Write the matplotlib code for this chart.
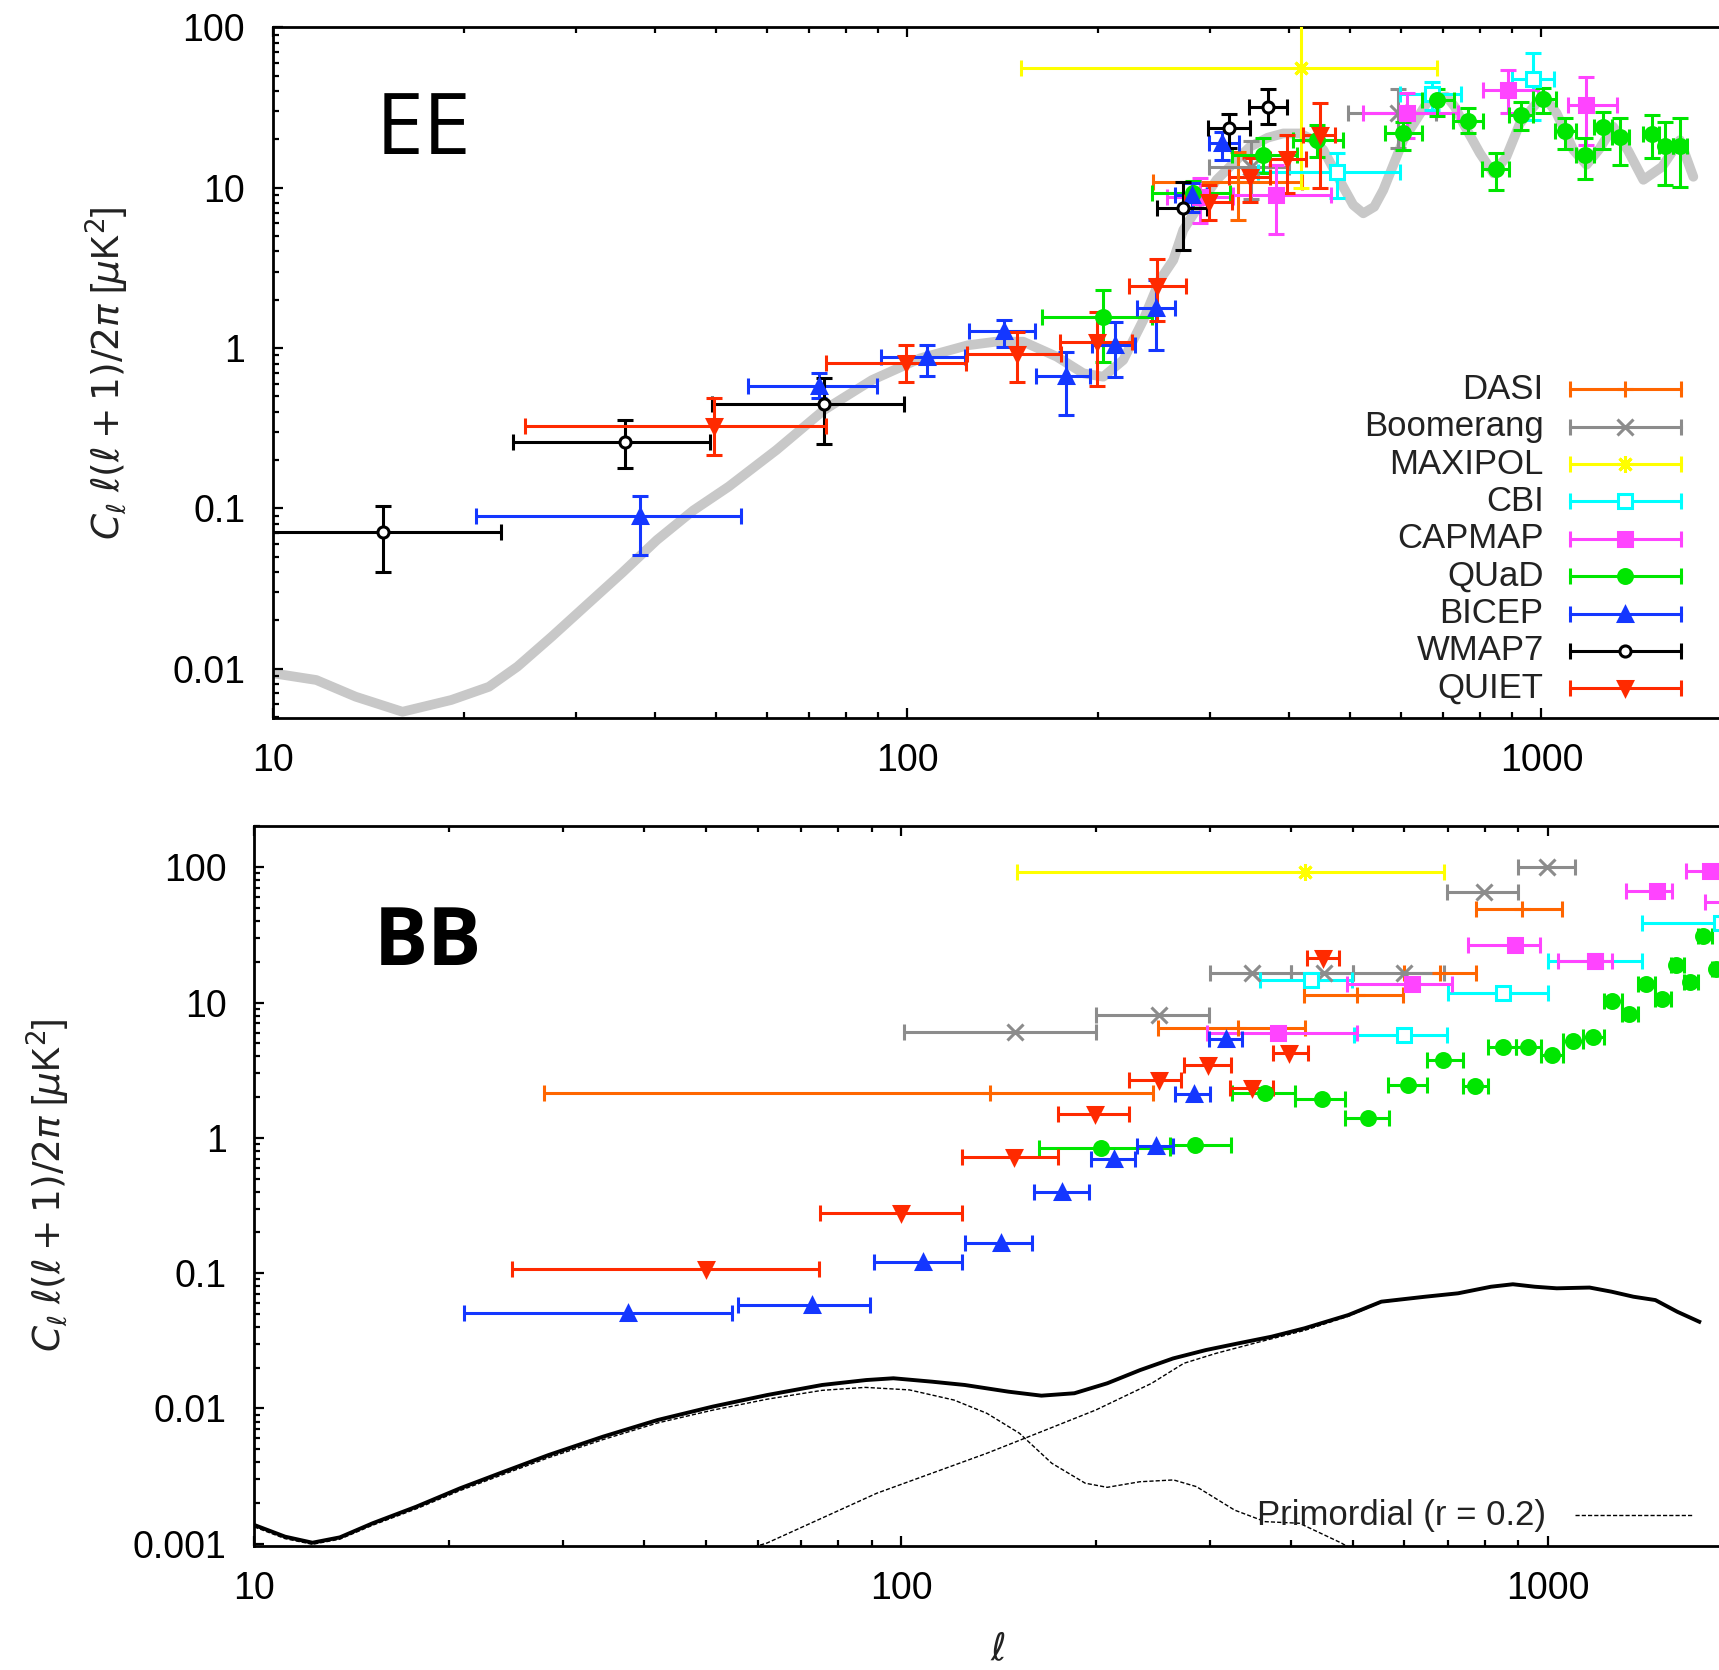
import numpy as np
import matplotlib
matplotlib.use("Agg")
import matplotlib.pyplot as plt
import matplotlib.ticker as ticker
import matplotlib.transforms as mtransforms
from matplotlib.lines import Line2D

# experiments, in the order of the key
NAMES = ["DASI", "Boomerang", "MAXIPOL", "CBI", "CAPMAP", "QUaD", "BICEP", "WMAP7", "QUIET"]
COLORS = ["#ff6600", "#8c8c8c", "#ffff00", "#00ffff", "#ff44ff", "#00e600", "#1437ff", "#000000", "#ff2a00"]
MARKERS = ["+", "x", (8, 2, 0), "s", "s", "o", "^", "o", "v"]
FILLED = [True, True, True, False, True, True, True, False, True]

# ---- EE band powers: l, l_min, l_max, C, C_min, C_max  [uK^2]
EE_DASI = [(332.7, 243.8, 420, 10.9, 6.29, 16.8)]
EE_BOOMERANG = [(348, 299, 400, 13.5, 8.5, 19.5),
                (594, 495.5, 682, 29.4, 17.6, 41.1)]
EE_MAXIPOL = [(418.2, 150.9, 685, 55.8, 9.9, 150)]
EE_CBI = [(476.7, 357.8, 598.6, 12.6, 8.59, 16.4),
          (671.5, 598.4, 746.2, 38.4, 30.5, 45.9),
          (969, 898, 1047, 47.5, 26.4, 68.9)]
EE_CAPMAP = [(289, 256.6, 326.1, 8.7, 6.0, 11.5),
             (381.5, 326.1, 465.5, 9.0, 5.14, 13.9),
             (614.6, 523.9, 739.6, 29.1, 20.3, 38.8),
             (887, 808, 988.8, 40.7, 29.4, 54.2),
             (1176, 1103, 1317.5, 32.8, 18.5, 49.3)]
EE_QUAD = [(203.4, 163, 243, 1.555, 0.821, 2.3),
           (282.5, 243, 322.8, 9.23, 7.5, 11.0),
           (364.4, 324.9, 411.4, 16.0, 12.3, 20.3),
           (442.3, 406.3, 486, 19.8, 15.5, 24.5),
           (605.7, 566.8, 647.5, 21.8, 17.2, 25.8),
           (685.3, 647.6, 728.2, 35.3, 28.0, 41.1),
           (767.3, 726.2, 808, 26.1, 21.8, 31.3),
           (848, 805, 890, 13.0, 9.68, 16.4),
           (928, 890, 970.9, 28.4, 22.9, 34.4),
           (1007, 970, 1054, 35.6, 29.4, 41.7),
           (1089.5, 1051, 1134, 22.7, 17.4, 27.1),
           (1172, 1134, 1210.6, 16.0, 11.4, 20.3),
           (1249.6, 1210, 1290.7, 23.8, 17.4, 29.8),
           (1330, 1290, 1376, 20.6, 13.9, 27.1),
           (1492.6, 1447.8, 1534.6, 21.6, 15.3, 28.4),
           (1566.5, 1534, 1610.5, 18.2, 10.4, 25.8),
           (1654.4, 1610, 1698.2, 18.2, 10.15, 27.1)]
EE_BICEP = [(37.9, 20.9, 54.7, 0.0892, 0.0514, 0.120),
            (72.7, 56.0, 89.6, 0.579, 0.486, 0.695),
            (107.5, 90.8, 123.5, 0.883, 0.669, 1.044),
            (142.1, 125.3, 159, 1.28, 1.01, 1.495),
            (178, 159.7, 194.2, 0.669, 0.382, 0.948),
            (212.7, 195.4, 228.7, 1.044, 0.657, 1.459),
            (246.8, 230.1, 264.4, 1.769, 0.972, 2.657),
            (281, 264.4, 296.7, 9.0, 7.08, 10.7),
            (313.3, 299.4, 333.9, 18.9, 14.9, 22.4)]
EE_WMAP7 = [(14.9, 8, 22.9, 0.0716, 0.040, 0.103),
            (35.9, 23.9, 48.9, 0.260, 0.178, 0.356),
            (73.8, 49.3, 99, 0.445, 0.252, 0.649),
            (272.5, 248, 296.7, 7.44, 4.09, 10.9),
            (322, 298.4, 347, 23.5, 17.6, 28.8),
            (371, 346, 396.7, 32.1, 25.0, 41.4)]
EE_QUIET = [(49.6, 24.97, 74.6, 0.326, 0.215, 0.486),
            (99.7, 74.6, 124, 0.81, 0.616, 1.044),
            (149.1, 124.1, 174.6, 0.917, 0.616, 1.264),
            (199, 174.2, 225.9, 1.095, 0.579, 1.685),
            (248, 223.9, 275.2, 2.436, 1.47, 3.6),
            (299.4, 274.2, 324.9, 8.18, 6.29, 10.4),
            (347, 322, 373.4, 11.6, 8.18, 15.3),
            (397.6, 373.4, 425.5, 15.0, 9.23, 21.3),
            (447.7, 421.3, 472.8, 21.3, 9.9, 33.6)]

# LCDM EE model
EE_MODEL_L = [10, 11.7, 13.5, 16.0, 19.1, 21.9, 24.3, 27.5, 31.0, 35.5, 40.3, 46, 52.3, 62.2, 73.9,
              88, 104.8, 124.6, 138, 152.4, 172.1, 189.6, 203.8, 219.1, 235.7, 250.3, 262.8, 272.5,
              290, 307.6, 347.1, 370, 391.7, 416.3, 435, 453.1, 487.1, 505, 523.8, 545, 563.3,
              605.6, 659.3, 685, 709, 730, 753, 800, 840, 880, 925, 1007, 1057, 1123, 1178, 1235,
              1298, 1370, 1448, 1550, 1654, 1736]
EE_MODEL_C = [0.00935, 0.00849, 0.00668, 0.00538, 0.00637, 0.0077, 0.0103, 0.0158, 0.0243, 0.0395,
              0.0634, 0.097, 0.1365, 0.231, 0.41, 0.631, 0.862, 1.04, 1.095, 1.095, 0.883, 0.695,
              0.662, 0.841, 1.495, 2.66, 3.54, 5.45, 8.0, 11.2, 18.0, 20.5, 21.8, 21.8, 20.0, 17.2,
              10.1, 7.8, 6.92, 7.6, 9.68, 19.8, 33.6, 36.5, 37.0, 32.0, 25.2, 16.4, 12.3, 15.5,
              25.2, 37.9, 29.1, 17.2, 13.9, 17.5, 24.0, 17.0, 11.2, 13.5, 19.8, 11.7]

# ---- BB upper limits: l, l_min, l_max, C  [uK^2]
BB_DASI = [(137.2, 28.0, 245.3, 2.14), (332, 250, 421, 6.44), (507.3, 419.6, 596.3, 11.4),
           (681.7, 600, 775, 16.4), (912.7, 773.2, 1052, 48.8)]
BB_BOOMERANG = [(149.8, 100.9, 199.8, 6.08), (250.2, 199.8, 299.4, 8.08), (348.5, 300.6, 400.2, 16.4),
                (450.5, 400.2, 500, 16.4), (600, 500, 690, 16.4), (796, 697.3, 900, 65.9),
                (995.5, 900, 1101, 100.7)]
BB_MAXIPOL = [(420.5, 151.2, 690, 92.8)]
BB_CBI = [(429.8, 358.6, 497.3, 14.7), (600, 502, 699.4, 5.74), (851, 701.3, 1001, 11.7),
          (1182, 1001, 1396, 20.4), (1850, 1396, 2450, 38.9)]
BB_CAPMAP = [(382.9, 297.6, 506, 5.91), (615.5, 488.4, 710, 13.7), (889.2, 753, 971.8, 26.6),
             (1182, 1037, 1254.5, 20.4), (1473, 1320.6, 1553, 66.7), (1780, 1634, 1940, 94.2),
             (1900, 1747, 2070, 55.5)]
BB_QUAD = [(203.8, 163.1, 260.9, 0.834), (284.9, 260.9, 324, 0.884), (365.1, 324.9, 406.4, 2.13),
           (446.9, 406.4, 485.7, 1.95), (527.6, 485.7, 568.6, 1.39), (608.4, 566.5, 650.7, 2.45),
           (687.6, 650.7, 740.4, 3.75), (771, 740.4, 808.6, 2.43), (851, 808.6, 892.7, 4.66),
           (932.6, 892.7, 974.5, 4.71), (1013.5, 974.5, 1053.6, 4.09), (1092, 1053.6, 1134, 5.21),
           (1175.5, 1134, 1221, 5.53), (1254.5, 1221, 1300, 10.3), (1336, 1300, 1379, 8.18),
           (1418, 1379, 1464, 13.7), (1498.5, 1464, 1548, 10.7), (1577.6, 1548, 1623, 18.9),
           (1658.5, 1623, 1708, 14.2), (1739, 1708, 1791, 31.0), (1819, 1791, 1850, 17.6)]
BB_BICEP = [(37.8, 21.1, 54.8, 0.0504), (72.9, 55.9, 89.6, 0.0584), (108.1, 90.7, 124.4, 0.121),
            (142.6, 125.4, 159.1, 0.166), (177.5, 160.4, 194.9, 0.399), (213.2, 196.5, 229.6, 0.699),
            (247.4, 231.4, 263.3, 0.874), (283.5, 265.3, 300.6, 2.1), (317.6, 299.4, 336.6, 5.34)]
BB_QUIET = [(49.9, 25.0, 74.6, 0.108), (100, 74.9, 124.4, 0.280), (149.5, 124.4, 174.7, 0.725),
            (199.5, 174.7, 225.1, 1.50), (250.2, 225, 270.5, 2.68), (298.2, 273.7, 323.8, 3.48),
            (348.3, 322.3, 375.4, 2.32), (398, 375.4, 426.1, 4.21), (448.5, 423.6, 476, 21.2)]

# BB models: total, primordial (r = 0.2) and lensing
BB_TOTAL_L = [10, 11.16, 12.3, 13.56, 15.24, 17.8, 20.8, 24.3, 28.5, 34.6, 42.0, 51.1, 62.1, 75.5,
              88.3, 97.3, 111.6, 125.4, 146.6, 164.8, 185.3, 208.3, 234.2, 263.3, 296, 332.7, 374,
              420.5, 491.5, 552.7, 645.9, 726.2, 816.6, 882.8, 954.4, 1032, 1160, 1254, 1356, 1466,
              1585, 1714]
BB_TOTAL_C = [0.001375, 0.001127, 0.001017, 0.001114, 0.001416, 0.001877, 0.002566, 0.0034, 0.00452,
              0.00618, 0.0082, 0.0103, 0.01256, 0.0149, 0.0162, 0.0167, 0.01576, 0.0149, 0.01329,
              0.01242, 0.01294, 0.01533, 0.0192, 0.0234, 0.027, 0.0303, 0.0339, 0.0391, 0.049,
              0.0615, 0.0669, 0.0709, 0.0793, 0.0827, 0.0793, 0.0772, 0.0782, 0.0729, 0.0669,
              0.0632, 0.0518, 0.0437]
BB_PRIM_L = [10, 11.16, 12.3, 13.56, 15.24, 17.8, 20.8, 24.3, 28.5, 34.6, 42, 51.1, 62.1, 75.5, 88,
             103, 120.7, 135.7, 152.4, 171, 192.6, 208.3, 234, 263.8, 286.2, 327.9, 365.6, 413,
             479.7, 520]
BB_PRIM_C = [0.00133, 0.00109, 0.00099, 0.00108, 0.00137, 0.00181, 0.00247, 0.00326, 0.00432,
             0.00588, 0.0078, 0.0097, 0.0117, 0.0136, 0.0143, 0.0137, 0.01153, 0.0092, 0.00655,
             0.00393, 0.0028, 0.00261, 0.00287, 0.00296, 0.00264, 0.00177, 0.001455, 0.001416,
             0.00101, 0.0008]
BB_LENS_L = [58, 62, 91.7, 135.7, 164.8, 200, 244, 273.6, 307, 359, 420.5, 491.5, 552.7, 645.9,
             726.2, 816.6, 882.8, 954.4, 1032, 1160, 1254, 1356, 1466, 1585, 1714]
BB_LENS_C = [0.00092, 0.00101, 0.00236, 0.00466, 0.00673, 0.00973, 0.01533, 0.02154, 0.02554,
             0.0311, 0.0377, 0.048, 0.0608, 0.0665, 0.0706, 0.0791, 0.0825, 0.0792, 0.0771,
             0.0781, 0.0728, 0.0668, 0.0631, 0.0518, 0.0437]

EE_SETS = [EE_DASI, EE_BOOMERANG, EE_MAXIPOL, EE_CBI, EE_CAPMAP, EE_QUAD, EE_BICEP, EE_WMAP7, EE_QUIET]
BB_SETS = [BB_DASI, BB_BOOMERANG, BB_MAXIPOL, BB_CBI, BB_CAPMAP, BB_QUAD, BB_BICEP, None, BB_QUIET]

plt.rcParams["font.family"] = ["Liberation Sans", "DejaVu Sans"]
plt.rcParams["mathtext.fontset"] = "dejavusans"

W, H = 1719, 1670
fig = plt.figure(figsize=(W / 100, H / 100), dpi=100)
# pixel coordinates, origin top-left
px = mtransforms.Affine2D().scale(1 / W, -1 / H).translate(0, 1) + fig.transFigure

RIGHT = 2000  # axes run past the right edge of the picture


def add_panel(left, top, bottom, xdec, y100, ydec):
    ax = fig.add_axes([left / W, 1 - bottom / H, (RIGHT - left) / W, (bottom - top) / H])
    ax.set_xscale("log")
    ax.set_yscale("log")
    ax.set_xlim(10, 10 ** (1 + (RIGHT - left) / xdec))
    ax.set_ylim(10 ** (2 - (bottom - y100) / ydec), 10 ** (2 + (y100 - top) / ydec))
    fmt = ticker.FuncFormatter(lambda v, _: f"{v:g}")
    ax.xaxis.set_major_formatter(fmt)
    ax.yaxis.set_major_formatter(fmt)
    ax.xaxis.set_minor_formatter(ticker.NullFormatter())
    ax.yaxis.set_minor_formatter(ticker.NullFormatter())
    ax.yaxis.set_major_locator(ticker.LogLocator(base=10, numticks=20))
    ax.yaxis.set_minor_locator(ticker.LogLocator(base=10, subs=np.arange(2, 10), numticks=20))
    ax.tick_params(which="both", direction="in", top=True, right=True, width=1.6)
    ax.tick_params(which="major", length=7)
    ax.tick_params(which="minor", length=4)
    ax.tick_params(axis="x", labelsize=27, pad=18)
    ax.tick_params(axis="y", labelsize=27, pad=20)
    for s in ax.spines.values():
        s.set_linewidth(2.0)
    return ax


ax1 = add_panel(273, 27.4, 718, 634.2, 27.4, 160.3)
ax2 = add_panel(254.3, 825.5, 1545.8, 646.8, 867.2, 135.3)

ylab = r"$C_\ell\;\ell(\ell+1)/2\pi$ [$\mu$K$^2$]"
for ax, xp, left in [(ax1, 107, 273), (ax2, 48, 254.3)]:
    ax.set_ylabel(ylab, fontsize=27, color="#222222", va="center")
    ax.yaxis.set_label_coords((xp - left) / (RIGHT - left), 0.5)
ax2.set_xlabel(r"$\ell$", fontsize=27, color="#222222", va="center")
ax2.xaxis.set_label_coords((997.6 - 254.3) / (RIGHT - 254.3), (1545.8 - 1650) / (1545.8 - 825.5))

# EE model
ax1.plot(EE_MODEL_L, EE_MODEL_C, color="#c8c8c8", lw=7, solid_joinstyle="round",
         solid_capstyle="round", zorder=1)

# BB models
ax2.plot(BB_TOTAL_L, BB_TOTAL_C, color="black", lw=2.8, solid_joinstyle="round", zorder=1)
ax2.plot(BB_PRIM_L, BB_PRIM_C, color="black", lw=1.0, ls=(0, (3, 1.5)), zorder=1)
ax2.plot(BB_LENS_L, BB_LENS_C, color="black", lw=1.0, ls=(0, (3, 1.5)), zorder=1)

LW = 2.2
CAP = 5.5


def marker_size(mk, filled):
    if mk in ("+", "x", (8, 2, 0)):
        return 12
    if mk == "o" and not filled:
        return 8
    return 10


for name, col, mk, filled, ee, bb in zip(NAMES, COLORS, MARKERS, FILLED, EE_SETS, BB_SETS):
    mfc = col if filled else "white"
    ms = marker_size(mk, filled)
    style = dict(fmt="none", ecolor=col, elinewidth=LW, capsize=CAP, capthick=LW, zorder=3)
    mstyle = dict(ls="none", marker=mk, color=col, mfc=mfc, mec=col, mew=LW, ms=ms, zorder=4)
    if ee:
        a = np.array(ee, float)
        ax1.errorbar(a[:, 0], a[:, 3], xerr=[a[:, 0] - a[:, 1], a[:, 2] - a[:, 0]],
                     yerr=[a[:, 3] - a[:, 4], a[:, 5] - a[:, 3]], **style)
        ax1.plot(a[:, 0], a[:, 3], **mstyle)
    if bb:
        b = np.array(bb, float)
        ax2.errorbar(b[:, 0], b[:, 3], xerr=[b[:, 0] - b[:, 1], b[:, 2] - b[:, 0]], **style)
        ax2.plot(b[:, 0], b[:, 3], **mstyle)

# key of the EE panel, drawn gnuplot style: label on the left, sample on the right
for k, (name, col, mk, filled) in enumerate(zip(NAMES, COLORS, MARKERS, FILLED)):
    y = 389.2 + 37.4 * k
    fig.text(1543.6 / W, 1 - y / H, name, ha="right", va="center", fontsize=25, color="#222222")
    fig.add_artist(Line2D([1570, 1680.6], [y, y], transform=px, color=col, lw=LW,
                          marker="|", ms=2 * CAP, mew=LW))
    fig.add_artist(Line2D([1625.3], [y], transform=px, ls="none", marker=mk, color=col,
                          mfc=col if filled else "white", mec=col, mew=LW,
                          ms=marker_size(mk, filled)))

# key of the BB panel
fig.text(1545.8 / W, 1 - 1515 / H, "Primordial (r = 0.2)", ha="right", va="center",
         fontsize=25, color="#222222")
fig.add_artist(Line2D([1575.4, 1691.6], [1515, 1515], transform=px, color="black", lw=1.0,
                      ls=(0, (3, 1.5))))

# panel names
fig.text(376 / W, 1 - 153.5 / H, "EE", fontsize=62, family="Open Sans", va="baseline", ha="left")
fig.text(374 / W, 1 - 964.7 / H, "BB", fontsize=58, family="Open Sans", fontweight="bold",
         va="baseline", ha="left")

fig.savefig("out.png", dpi=100)
